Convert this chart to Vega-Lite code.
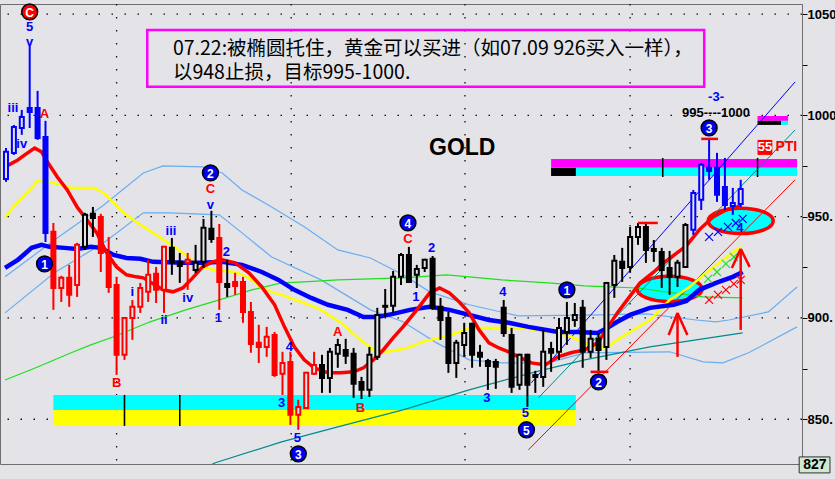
{
  "$schema": "https://vega.github.io/schema/vega-lite/v6.json",
  "width": 802,
  "height": 460,
  "autosize": {"type": "none"},
  "padding": {"left": 0, "top": 4, "right": 33, "bottom": 15},
  "background": "#E3E3E8",
  "config": {
    "view": {"stroke": "#6E6E6E", "strokeWidth": 1, "fill": "#E3E3E8"}
  },
  "resolve": {"scale": {"color": "independent", "fill": "independent", "stroke": "independent"}},
  "datasets": {
    "bars": [
      {"i":0,"o":968.6,"h":983.9,"l":967.2,"c":982.0,"ph":"impulse"},
      {"i":1,"o":981.5,"h":995.3,"l":980.5,"c":994.3,"ph":"impulse"},
      {"i":2,"o":993.8,"h":1002.7,"l":990.4,"c":999.2,"ph":"impulse"},
      {"i":3,"o":1003.7,"h":1034.3,"l":993.8,"c":1001.7,"ph":"impulse"},
      {"i":4,"o":1003.7,"h":1012.1,"l":987.9,"c":988.9,"ph":"impulse"},
      {"i":5,"o":989.4,"h":997.3,"l":937.5,"c":942.0,"ph":"impulse"},
      {"i":6,"o":942.5,"h":946.9,"l":904.0,"c":914.8,"ph":"decline"},
      {"i":7,"o":914.8,"h":920.8,"l":907.9,"c":919.8,"ph":"decline"},
      {"i":8,"o":919.8,"h":926.2,"l":905.5,"c":911.4,"ph":"decline"},
      {"i":9,"o":916.3,"h":937.1,"l":910.4,"c":936.1,"ph":"decline"},
      {"i":10,"o":935.1,"h":951.9,"l":933.6,"c":950.9,"ph":"range"},
      {"i":11,"o":951.4,"h":954.8,"l":940.0,"c":949.4,"ph":"range"},
      {"i":12,"o":949.9,"h":951.4,"l":922.7,"c":932.1,"ph":"decline"},
      {"i":13,"o":931.1,"h":940.0,"l":912.4,"c":915.3,"ph":"decline"},
      {"i":14,"o":916.3,"h":920.3,"l":871.9,"c":881.8,"ph":"decline"},
      {"i":15,"o":881.8,"h":900.5,"l":879.3,"c":900.0,"ph":"decline"},
      {"i":16,"o":900.0,"h":908.9,"l":889.2,"c":905.5,"ph":"decline"},
      {"i":17,"o":905.5,"h":917.3,"l":902.5,"c":914.8,"ph":"decline"},
      {"i":18,"o":912.9,"h":928.7,"l":907.9,"c":921.3,"ph":"decline"},
      {"i":19,"o":921.8,"h":925.2,"l":907.4,"c":913.9,"ph":"decline"},
      {"i":20,"o":913.9,"h":935.6,"l":902.5,"c":935.1,"ph":"decline"},
      {"i":21,"o":934.6,"h":939.5,"l":921.3,"c":927.2,"ph":"range"},
      {"i":22,"o":927.7,"h":932.1,"l":917.3,"c":925.7,"ph":"range"},
      {"i":23,"o":927.2,"h":932.1,"l":913.9,"c":928.7,"ph":"decline"},
      {"i":24,"o":923.7,"h":936.1,"l":922.3,"c":927.2,"ph":"range"},
      {"i":25,"o":927.7,"h":948.9,"l":924.7,"c":944.5,"ph":"range"},
      {"i":26,"o":944.0,"h":952.9,"l":937.1,"c":939.0,"ph":"range"},
      {"i":27,"o":939.5,"h":946.4,"l":904.0,"c":917.8,"ph":"decline"},
      {"i":28,"o":916.8,"h":928.7,"l":910.4,"c":915.3,"ph":"range"},
      {"i":29,"o":917.8,"h":922.3,"l":911.4,"c":915.8,"ph":"decline"},
      {"i":30,"o":917.8,"h":920.3,"l":897.6,"c":903.0,"ph":"decline"},
      {"i":31,"o":903.0,"h":907.9,"l":882.8,"c":887.2,"ph":"decline"},
      {"i":32,"o":887.7,"h":896.6,"l":877.8,"c":885.7,"ph":"decline"},
      {"i":33,"o":885.7,"h":895.6,"l":880.8,"c":890.7,"ph":"decline"},
      {"i":34,"o":891.6,"h":893.1,"l":870.9,"c":871.9,"ph":"decline"},
      {"i":35,"o":872.4,"h":883.3,"l":862.0,"c":877.8,"ph":"decline"},
      {"i":36,"o":878.3,"h":883.3,"l":847.2,"c":852.2,"ph":"decline"},
      {"i":37,"o":852.2,"h":859.6,"l":844.8,"c":856.1,"ph":"decline"},
      {"i":38,"o":855.6,"h":873.4,"l":855.1,"c":872.9,"ph":"decline"},
      {"i":39,"o":872.4,"h":883.3,"l":871.9,"c":876.8,"ph":"decline"},
      {"i":40,"o":876.8,"h":881.8,"l":863.0,"c":870.4,"ph":"range"},
      {"i":41,"o":870.4,"h":885.2,"l":863.0,"c":883.3,"ph":"range"},
      {"i":42,"o":882.3,"h":889.7,"l":875.4,"c":886.7,"ph":"range"},
      {"i":43,"o":884.2,"h":889.7,"l":877.3,"c":881.3,"ph":"range"},
      {"i":44,"o":882.3,"h":885.2,"l":860.5,"c":867.5,"ph":"range"},
      {"i":45,"o":868.4,"h":870.9,"l":860.0,"c":864.5,"ph":"range"},
      {"i":46,"o":864.5,"h":885.7,"l":861.0,"c":881.8,"ph":"range"},
      {"i":47,"o":880.8,"h":905.0,"l":879.3,"c":901.5,"ph":"range"},
      {"i":48,"o":906.0,"h":914.3,"l":900.5,"c":905.5,"ph":"range"},
      {"i":49,"o":906.0,"h":923.2,"l":902.5,"c":920.3,"ph":"range"},
      {"i":50,"o":920.3,"h":932.1,"l":916.3,"c":931.1,"ph":"range"},
      {"i":51,"o":931.1,"h":935.1,"l":917.3,"c":917.8,"ph":"range"},
      {"i":52,"o":921.3,"h":926.2,"l":914.8,"c":924.2,"ph":"range"},
      {"i":53,"o":924.7,"h":929.2,"l":922.7,"c":928.7,"ph":"range"},
      {"i":54,"o":929.2,"h":930.6,"l":904.0,"c":905.0,"ph":"range"},
      {"i":55,"o":905.5,"h":909.9,"l":889.2,"c":899.0,"ph":"range"},
      {"i":56,"o":900.0,"h":903.0,"l":872.9,"c":877.8,"ph":"range"},
      {"i":57,"o":877.8,"h":889.2,"l":870.4,"c":887.7,"ph":"range"},
      {"i":58,"o":886.7,"h":897.6,"l":880.8,"c":892.6,"ph":"range"},
      {"i":59,"o":897.1,"h":897.6,"l":875.4,"c":881.8,"ph":"range"},
      {"i":60,"o":882.8,"h":886.7,"l":875.9,"c":880.8,"ph":"range"},
      {"i":61,"o":878.8,"h":879.8,"l":864.5,"c":876.3,"ph":"range"},
      {"i":62,"o":878.3,"h":879.8,"l":865.0,"c":875.9,"ph":"range"},
      {"i":63,"o":905.0,"h":908.9,"l":890.7,"c":892.6,"ph":"range"},
      {"i":64,"o":891.6,"h":895.1,"l":863.0,"c":866.0,"ph":"range"},
      {"i":65,"o":867.0,"h":882.3,"l":864.5,"c":881.8,"ph":"range"},
      {"i":66,"o":881.8,"h":882.3,"l":856.1,"c":867.0,"ph":"range"},
      {"i":67,"o":871.9,"h":873.9,"l":863.0,"c":870.9,"ph":"range"},
      {"i":68,"o":870.9,"h":894.1,"l":866.0,"c":883.3,"ph":"range"},
      {"i":69,"o":884.7,"h":888.2,"l":873.4,"c":882.8,"ph":"range"},
      {"i":70,"o":883.3,"h":900.0,"l":879.3,"c":895.1,"ph":"range"},
      {"i":71,"o":893.1,"h":907.9,"l":886.7,"c":900.0,"ph":"range"},
      {"i":72,"o":899.0,"h":907.4,"l":895.6,"c":901.5,"ph":"range"},
      {"i":73,"o":905.0,"h":908.9,"l":875.4,"c":883.3,"ph":"range"},
      {"i":74,"o":883.3,"h":894.1,"l":880.3,"c":889.7,"ph":"range"},
      {"i":75,"o":889.7,"h":892.6,"l":873.4,"c":884.2,"ph":"range"},
      {"i":76,"o":885.7,"h":917.8,"l":879.3,"c":917.3,"ph":"range"},
      {"i":77,"o":916.3,"h":931.1,"l":909.9,"c":928.2,"ph":"range"},
      {"i":78,"o":927.7,"h":934.6,"l":917.8,"c":924.7,"ph":"range"},
      {"i":79,"o":925.2,"h":944.9,"l":922.3,"c":940.0,"ph":"range"},
      {"i":80,"o":940.0,"h":946.9,"l":936.1,"c":944.9,"ph":"range"},
      {"i":81,"o":944.9,"h":947.4,"l":927.2,"c":933.6,"ph":"range"},
      {"i":82,"o":934.1,"h":938.5,"l":927.7,"c":933.1,"ph":"range"},
      {"i":83,"o":932.6,"h":934.6,"l":914.8,"c":923.7,"ph":"range"},
      {"i":84,"o":924.7,"h":933.1,"l":911.4,"c":920.3,"ph":"range"},
      {"i":85,"o":920.3,"h":928.7,"l":915.3,"c":927.2,"ph":"range"},
      {"i":86,"o":925.2,"h":946.9,"l":924.7,"c":945.9,"ph":"range"},
      {"i":87,"o":943.5,"h":963.2,"l":941.0,"c":961.7,"ph":"impulse"},
      {"i":88,"o":958.3,"h":976.5,"l":953.3,"c":975.6,"ph":"impulse"},
      {"i":89,"o":974.1,"h":988.4,"l":968.2,"c":972.6,"ph":"impulse"},
      {"i":90,"o":974.1,"h":981.5,"l":957.3,"c":960.8,"ph":"impulse"},
      {"i":91,"o":964.7,"h":979.0,"l":953.3,"c":955.8,"ph":"impulse"},
      {"i":92,"o":955.3,"h":964.2,"l":950.9,"c":956.8,"ph":"impulse"},
      {"i":93,"o":956.3,"h":968.2,"l":954.8,"c":963.7,"ph":"impulse"}
    ],
    "ma": [
      {"s":"fast","i":-0.12,"p":974.6},{"s":"fast","i":1.5,"p":978.0},{"s":"fast","i":2.38,"p":980.5},{"s":"fast","i":3.63,"p":983.9},{"s":"fast","i":4.5,"p":982.0},{"s":"fast","i":5.25,"p":977.0},{"s":"fast","i":6.5,"p":969.6},{"s":"fast","i":7.75,"p":963.2},{"s":"fast","i":9,"p":954.8},{"s":"fast","i":10.25,"p":948.4},{"s":"fast","i":11.5,"p":942.0},{"s":"fast","i":12.75,"p":932.1},{"s":"fast","i":14,"p":925.2},{"s":"fast","i":15.25,"p":921.3},{"s":"fast","i":16.5,"p":920.3},{"s":"fast","i":17.38,"p":919.8},{"s":"fast","i":19.88,"p":913.9},{"s":"fast","i":21.13,"p":912.9},{"s":"fast","i":22.38,"p":914.8},{"s":"fast","i":23.63,"p":919.8},{"s":"fast","i":24.88,"p":925.2},{"s":"fast","i":26.13,"p":927.7},{"s":"fast","i":27.38,"p":928.7},{"s":"fast","i":29,"p":927.2},{"s":"fast","i":30.75,"p":922.3},{"s":"fast","i":32.38,"p":915.3},{"s":"fast","i":34,"p":906.5},{"s":"fast","i":35.25,"p":895.6},{"s":"fast","i":36.5,"p":885.7},{"s":"fast","i":37.75,"p":879.3},{"s":"fast","i":39,"p":875.4},{"s":"fast","i":40.75,"p":872.9},{"s":"fast","i":42.38,"p":872.9},{"s":"fast","i":44,"p":873.4},{"s":"fast","i":45.25,"p":875.4},{"s":"fast","i":46.5,"p":879.3},{"s":"fast","i":47.75,"p":884.2},{"s":"fast","i":49,"p":890.2},{"s":"fast","i":50.25,"p":895.6},{"s":"fast","i":52,"p":904.0},{"s":"fast","i":53.63,"p":912.4},{"s":"fast","i":54.88,"p":914.8},{"s":"fast","i":56.13,"p":912.4},{"s":"fast","i":57.38,"p":907.9},{"s":"fast","i":58.63,"p":902.5},{"s":"fast","i":59.88,"p":894.1},{"s":"fast","i":61.13,"p":887.7},{"s":"fast","i":62.38,"p":885.2},{"s":"fast","i":63.63,"p":883.3},{"s":"fast","i":64.88,"p":880.8},{"s":"fast","i":66.5,"p":877.8},{"s":"fast","i":68.25,"p":876.8},{"s":"fast","i":69.88,"p":880.8},{"s":"fast","i":71.5,"p":882.8},{"s":"fast","i":73.25,"p":884.2},{"s":"fast","i":74.88,"p":887.7},{"s":"fast","i":76.13,"p":895.1},{"s":"fast","i":77.38,"p":902.5},{"s":"fast","i":78.63,"p":908.9},{"s":"fast","i":80.25,"p":917.3},{"s":"fast","i":82,"p":922.7},{"s":"fast","i":83.25,"p":927.2},{"s":"fast","i":86.13,"p":935.6},{"s":"fast","i":87.75,"p":943.5},{"s":"fast","i":89.5,"p":949.9},{"s":"fast","i":91.13,"p":953.3},{"s":"fast","i":93,"p":955.3},
      {"s":"slow","i":-0.12,"p":924.7},{"s":"slow","i":1.5,"p":928.7},{"s":"slow","i":3.25,"p":934.6},{"s":"slow","i":4.5,"p":936.1},{"s":"slow","i":5.5,"p":935.1},{"s":"slow","i":7.38,"p":934.6},{"s":"slow","i":9,"p":934.1},{"s":"slow","i":10.75,"p":935.1},{"s":"slow","i":12,"p":934.6},{"s":"slow","i":13.63,"p":931.1},{"s":"slow","i":15.25,"p":929.6},{"s":"slow","i":17,"p":929.2},{"s":"slow","i":18.63,"p":927.7},{"s":"slow","i":22.38,"p":927.2},{"s":"slow","i":24.88,"p":927.2},{"s":"slow","i":27.38,"p":927.7},{"s":"slow","i":29.88,"p":926.2},{"s":"slow","i":32.38,"p":922.7},{"s":"slow","i":34.5,"p":918.8},{"s":"slow","i":36.5,"p":913.9},{"s":"slow","i":38.63,"p":909.9},{"s":"slow","i":40.75,"p":906.5},{"s":"slow","i":43.25,"p":904.0},{"s":"slow","i":45.25,"p":900.5},{"s":"slow","i":47,"p":900.5},{"s":"slow","i":49,"p":902.0},{"s":"slow","i":51.13,"p":904.0},{"s":"slow","i":53.63,"p":905.5},{"s":"slow","i":56.13,"p":904.0},{"s":"slow","i":58.63,"p":901.5},{"s":"slow","i":61.13,"p":899.0},{"s":"slow","i":63.63,"p":897.6},{"s":"slow","i":66.13,"p":895.6},{"s":"slow","i":69.88,"p":893.1},{"s":"slow","i":72.38,"p":893.1},{"s":"slow","i":74.88,"p":892.6},{"s":"slow","i":76.13,"p":895.1},{"s":"slow","i":77.38,"p":898.1},{"s":"slow","i":79,"p":901.5},{"s":"slow","i":81.5,"p":905.0},{"s":"slow","i":84.5,"p":906.5},{"s":"slow","i":86.13,"p":908.4},{"s":"slow","i":87.75,"p":913.9},{"s":"slow","i":89.88,"p":917.3},{"s":"slow","i":92,"p":920.3},{"s":"slow","i":93.25,"p":922.7},
      {"s":"mid","i":-0.12,"p":949.9},{"s":"mid","i":1.5,"p":957.3},{"s":"mid","i":3.25,"p":964.2},{"s":"mid","i":4,"p":967.7},{"s":"mid","i":5.25,"p":967.2},{"s":"mid","i":7,"p":965.7},{"s":"mid","i":8.25,"p":964.2},{"s":"mid","i":11.13,"p":964.2},{"s":"mid","i":12.38,"p":961.7},{"s":"mid","i":13.63,"p":956.8},{"s":"mid","i":14.88,"p":951.9},{"s":"mid","i":16.5,"p":947.4},{"s":"mid","i":18.63,"p":942.0},{"s":"mid","i":21.5,"p":934.6},{"s":"mid","i":23.25,"p":929.6},{"s":"mid","i":24.88,"p":924.7},{"s":"mid","i":26.5,"p":923.7},{"s":"mid","i":29,"p":922.7},{"s":"mid","i":30.75,"p":919.8},{"s":"mid","i":32.38,"p":914.8},{"s":"mid","i":34,"p":912.4},{"s":"mid","i":34.88,"p":911.4},{"s":"mid","i":37.38,"p":907.9},{"s":"mid","i":39.88,"p":904.0},{"s":"mid","i":42.38,"p":897.6},{"s":"mid","i":44.88,"p":889.2},{"s":"mid","i":46.5,"p":884.2},{"s":"mid","i":48.25,"p":883.3},{"s":"mid","i":49.5,"p":884.2},{"s":"mid","i":50.75,"p":885.2},{"s":"mid","i":52.75,"p":888.2},{"s":"mid","i":54.88,"p":890.2},{"s":"mid","i":57,"p":892.6},{"s":"mid","i":58.63,"p":895.1},{"s":"mid","i":61.13,"p":895.1},{"s":"mid","i":63.63,"p":895.1},{"s":"mid","i":66.13,"p":894.6},{"s":"mid","i":69,"p":893.1},{"s":"mid","i":71.5,"p":890.7},{"s":"mid","i":73.25,"p":887.7},{"s":"mid","i":74.88,"p":885.2},{"s":"mid","i":76.13,"p":885.7},{"s":"mid","i":77.38,"p":889.2},{"s":"mid","i":79,"p":893.1},{"s":"mid","i":81.5,"p":899.0},{"s":"mid","i":84,"p":908.9},{"s":"mid","i":86.5,"p":915.3},{"s":"mid","i":88.63,"p":922.3},{"s":"mid","i":90.75,"p":928.7},{"s":"mid","i":93,"p":935.1},
      {"s":"envA","i":-0.12,"p":920.3},{"s":"envA","i":6.13,"p":938.5},{"s":"envA","i":12.38,"p":955.8},{"s":"envA","i":17.38,"p":971.6},{"s":"envA","i":19.88,"p":975.1},{"s":"envA","i":24.88,"p":974.6},{"s":"envA","i":27.38,"p":971.6},{"s":"envA","i":29.88,"p":963.2},{"s":"envA","i":33.63,"p":954.8},{"s":"envA","i":37.75,"p":945.0},{"s":"envA","i":42,"p":933.6},{"s":"envA","i":46.13,"p":929.6},{"s":"envA","i":50.25,"p":921.3},{"s":"envA","i":53.63,"p":912.9},{"s":"envA","i":58.63,"p":906.5},{"s":"envA","i":64.88,"p":901.0},{"s":"envA","i":75.25,"p":901.5},{"s":"envA","i":81.13,"p":902.0},{"s":"envA","i":87.38,"p":899.0},{"s":"envA","i":89.88,"p":898.1},{"s":"envA","i":91.5,"p":899.0},{"s":"envA","i":96.5,"p":903.0},{"s":"envA","i":100.13,"p":915.3},
      {"s":"envB","i":-0.12,"p":902.5},{"s":"envB","i":6.13,"p":922.3},{"s":"envB","i":12.38,"p":937.1},{"s":"envB","i":17.38,"p":951.9},{"s":"envB","i":20.75,"p":951.9},{"s":"envB","i":27,"p":950.9},{"s":"envB","i":29.88,"p":942.0},{"s":"envB","i":33.63,"p":930.1},{"s":"envB","i":39.88,"p":918.8},{"s":"envB","i":46.13,"p":904.0},{"s":"envB","i":50.25,"p":898.1},{"s":"envB","i":54.5,"p":887.7},{"s":"envB","i":58.63,"p":879.3},{"s":"envB","i":62.75,"p":877.8},{"s":"envB","i":68.63,"p":877.8},{"s":"envB","i":73.25,"p":882.8},{"s":"envB","i":84,"p":883.3},{"s":"envB","i":88.25,"p":878.3},{"s":"envB","i":90.75,"p":877.8},{"s":"envB","i":94,"p":882.8},{"s":"envB","i":100.13,"p":895.6},
      {"s":"trendG","i":-0.12,"p":869.4},{"s":"trendG","i":4,"p":875.8},{"s":"trendG","i":8.25,"p":882.8},{"s":"trendG","i":10.75,"p":886.7},{"s":"trendG","i":13.63,"p":890.7},{"s":"trendG","i":18.25,"p":898.1},{"s":"trendG","i":22.75,"p":904.0},{"s":"trendG","i":27,"p":908.9},{"s":"trendG","i":31.13,"p":913.9},{"s":"trendG","i":34.88,"p":917.3},{"s":"trendG","i":37.75,"p":917.8},{"s":"trendG","i":42,"p":918.8},{"s":"trendG","i":50.25,"p":919.8},{"s":"trendG","i":55.75,"p":921.3},{"s":"trendG","i":58.63,"p":920.3},{"s":"trendG","i":62.75,"p":918.8},{"s":"trendG","i":68.63,"p":917.3},{"s":"trendG","i":73.25,"p":915.8},{"s":"trendG","i":79.88,"p":914.8},{"s":"trendG","i":88.25,"p":910.4},{"s":"trendG","i":93.25,"p":909.9},
      {"s":"trendT","i":22.38,"p":821.1},{"s":"trendT","i":26.5,"p":828.5},{"s":"trendT","i":34.88,"p":838.8},{"s":"trendT","i":42,"p":846.2},{"s":"trendT","i":50.25,"p":854.6},{"s":"trendT","i":58.63,"p":864.5},{"s":"trendT","i":67,"p":873.4},{"s":"trendT","i":73.25,"p":879.3},{"s":"trendT","i":81.5,"p":885.7},{"s":"trendT","i":89.88,"p":890.7},{"s":"trendT","i":93.25,"p":892.6}
    ],
    "channels": [
      {"s":"upper","i":66.5,"p":868.0,"i2":99.88,"p2":1016.5},
      {"s":"middle","i":67.38,"p":860.5,"i2":99.88,"p2":992.8},
      {"s":"lower","i":66.13,"p":834.9,"i2":99.88,"p2":968.2}
    ],
    "zones": [
      {"k":"cyan","i":6,"i2":72.13,"p":862.0,"p2":854.6},
      {"k":"yellow","i":6,"i2":72.13,"p":854.6,"p2":846.7},
      {"k":"magenta","i":69,"i2":100.13,"p":978.5,"p2":974.1},
      {"k":"cyan","i":69,"i2":100.13,"p":974.1,"p2":970.1},
      {"k":"black","i":69,"i2":72.13,"p":974.1,"p2":970.1},
      {"k":"magenta","i":95.13,"i2":99,"p":999.7,"p2":997.3},
      {"k":"black","i":95.13,"i2":98.13,"p":997.3,"p2":995.3},
      {"k":"cyan","i":98.13,"i2":99,"p":997.3,"p2":995.3},
      {"k":"black","i":14.9,"i2":15.1,"p":862.0,"p2":846.7},
      {"k":"black","i":21.9,"i2":22.1,"p":862.0,"p2":846.7},
      {"k":"black","i":83.03,"i2":83.23,"p":979.0,"p2":969.6},
      {"k":"black","i":95.03,"i2":95.23,"p":979.0,"p2":969.6}
    ],
    "ovals": [
      {"i":84,"p":914.3},
      {"i":93,"p":947.9}
    ],
    "crosses": [
      {"k":"g","i":88.88,"p":919.3},{"k":"g","i":90,"p":922.7},{"k":"g","i":91.13,"p":926.7},{"k":"g","i":92.13,"p":930.1},
      {"k":"r","i":89,"p":908.9},{"k":"r","i":90.13,"p":911.4},{"k":"r","i":91.13,"p":913.9},{"k":"r","i":92.13,"p":916.8},{"k":"r","i":93,"p":918.8},
      {"k":"b","i":89,"p":940.0},{"k":"b","i":90.13,"p":942.5},{"k":"b","i":91.38,"p":945.0},{"k":"b","i":92.38,"p":946.9},{"k":"b","i":93.25,"p":948.9}
    ],
    "strokes": [
      {"i":88,"p":988.4,"i2":90.13,"p2":988.4},
      {"i":80,"p":946.9,"i2":82.5,"p2":946.9},
      {"i":74,"p":873.4,"i2":76.25,"p2":873.4},
      {"i":85,"p":880.8,"i2":85,"p2":902.5},
      {"i":83.88,"p":891.6,"i2":85,"p2":902.5},
      {"i":86.25,"p":891.6,"i2":85,"p2":902.5},
      {"i":93,"p":894.1,"i2":93,"p2":933.6},
      {"i":91.88,"p":924.7,"i2":93,"p2":934.1},
      {"i":94.13,"p":925.2,"i2":93,"p2":934.1}
    ],
    "counts": [
      {"i":3,"p":1051.1,"t":"C","k":"abc"},
      {"i":4.88,"p":926.7,"t":"1","k":"wave"},
      {"i":25.88,"p":971.6,"t":"2","k":"wave"},
      {"i":37,"p":832.9,"t":"3","k":"wave"},
      {"i":50.88,"p":946.9,"t":"4","k":"wave"},
      {"i":65.88,"p":844.8,"t":"5","k":"wave"},
      {"i":71,"p":913.9,"t":"1","k":"wave"},
      {"i":75,"p":868.4,"t":"2","k":"wave"},
      {"i":89,"p":993.8,"t":"3","k":"wave"}
    ],
    "tags": [
      {"i":3,"p":1043.6,"t":"5","k":"wave"},
      {"i":3,"p":1036.0,"t":"v","k":"wave"},
      {"i":0.88,"p":1003.7,"t":"iii","k":"wave"},
      {"i":2,"p":985.9,"t":"iv","k":"wave"},
      {"i":4.88,"p":1000.7,"t":"A","k":"abc"},
      {"i":14,"p":867.9,"t":"B","k":"abc"},
      {"i":16,"p":912.9,"t":"i","k":"wave"},
      {"i":20,"p":899.0,"t":"ii","k":"wave"},
      {"i":20.88,"p":943.0,"t":"iii","k":"wave"},
      {"i":23,"p":909.9,"t":"iv","k":"wave"},
      {"i":25.88,"p":963.6,"t":"C","k":"abc"},
      {"i":25.88,"p":956.0,"t":"v","k":"wave"},
      {"i":27.88,"p":932.6,"t":"2","k":"wave"},
      {"i":26.88,"p":900.0,"t":"1","k":"wave"},
      {"i":35.88,"p":885.7,"t":"4","k":"wave"},
      {"i":34.88,"p":858.1,"t":"3","k":"wave"},
      {"i":36.88,"p":840.8,"t":"5","k":"wave"},
      {"i":42,"p":893.1,"t":"A","k":"abc"},
      {"i":44.88,"p":855.6,"t":"B","k":"abc"},
      {"i":50.88,"p":939.0,"t":"C","k":"abc"},
      {"i":51.88,"p":910.4,"t":"1","k":"wave"},
      {"i":53.88,"p":934.6,"t":"2","k":"wave"},
      {"i":62.88,"p":912.9,"t":"4","k":"wave"},
      {"i":60.88,"p":860.5,"t":"3","k":"wave"},
      {"i":65.75,"p":853.1,"t":"5","k":"wave"},
      {"i":89.88,"p":1009.3,"t":"-3-","k":"wave"},
      {"i":92.9,"p":944.5,"t":"4","k":"wave"},
      {"i":89.88,"p":1001.4,"t":"995----1000","k":"note"}
    ]
  },
  "encoding": {
    "x": {"field": "i", "type": "quantitative", "scale": {"domain": [-0.125, 100.125]}, "axis": null}
  },
  "layer": [
    {
      "data": {"values": [{"i":14},{"i":36.1},{"i":58.1},{"i":79}]},
      "mark": {"type": "rule", "color": "#111111", "strokeWidth": 1.3, "strokeDash": [1.5, 11.5]},
      "encoding": {"x": {"field": "i", "type": "quantitative"}}
    },
    {
      "data": {"values": [{"p":850},{"p":900},{"p":950},{"p":1000},{"p":1050}]},
      "mark": {"type": "rule", "color": "#111111", "strokeWidth": 1.3, "strokeDash": [1.5, 11.5]},
      "encoding": {
        "x": null,
        "y": {
          "field": "p", "type": "quantitative",
          "scale": {"domain": [827.9, 1055], "nice": false, "zero": false},
          "axis": {
            "orient": "right", "title": null, "grid": false,
            "values": [850, 875, 900, 925, 950, 975, 1000, 1025, 1050],
            "labelExpr": "datum.value % 50 === 0 ? datum.value + '.' : ''",
            "tickSize": 5, "tickColor": "#000000", "tickWidth": 1,
            "domain": true, "domainColor": "#6E6E6E",
            "labelFont": "Liberation Sans", "labelFontSize": 13, "labelFontWeight": "bold",
            "labelColor": "#000000", "labelPadding": 0, "labelOverlap": false, "labelFlush": false
          }
        }
      }
    },
    {
      "data": {"name": "zones"},
      "mark": {"type": "rect"},
      "encoding": {
        "x": {"field": "i", "type": "quantitative"},
        "x2": {"field": "i2"},
        "y": {"field": "p", "type": "quantitative", "title": null},
        "y2": {"field": "p2"},
        "fill": {"field": "k", "type": "nominal", "legend": null,
                 "scale": {"domain": ["cyan", "yellow", "magenta", "black"], "range": ["#00FFFF", "#FFFF00", "#FF00FF", "#000000"]}}
      }
    },
    {
      "data": {"name": "ovals"},
      "mark": {"type": "point", "shape": "M-1,0A1,0.39,0,1,0,1,0A1,0.39,0,1,0,-1,0Z", "size": 4225, "filled": true, "fill": "#00FFFF", "fillOpacity": 1, "stroke": "#FF0000", "strokeWidth": 3.5, "opacity": 1},
      "encoding": {"y": {"field": "p", "type": "quantitative", "title": null}}
    },
    {
      "data": {"name": "ma"},
      "transform": [{"filter": "datum.s === 'envA' || datum.s === 'envB'"}],
      "mark": {"type": "line", "color": "#6AAEF0", "strokeWidth": 1.2, "clip": true},
      "encoding": {"y": {"field": "p", "type": "quantitative", "title": null}, "detail": {"field": "s"}}
    },
    {
      "data": {"name": "ma"},
      "transform": [{"filter": "datum.s === 'trendG'"}],
      "mark": {"type": "line", "color": "#1EE01E", "strokeWidth": 1.2, "clip": true},
      "encoding": {"y": {"field": "p", "type": "quantitative", "title": null}}
    },
    {
      "data": {"name": "ma"},
      "transform": [{"filter": "datum.s === 'trendT'"}],
      "mark": {"type": "line", "color": "#008C8C", "strokeWidth": 1.2, "clip": true},
      "encoding": {"y": {"field": "p", "type": "quantitative", "title": null}}
    },
    {
      "data": {"name": "channels"},
      "mark": {"type": "rule", "strokeWidth": 1, "clip": true},
      "encoding": {
        "x": {"field": "i", "type": "quantitative"},
        "x2": {"field": "i2"},
        "y": {"field": "p", "type": "quantitative", "title": null},
        "y2": {"field": "p2"},
        "color": {"field": "s", "type": "nominal", "legend": null,
                  "scale": {"domain": ["upper", "middle", "lower"], "range": ["#0000FF", "#008C8C", "#FF0000"]}}
      }
    },
    {
      "data": {"name": "ma"},
      "transform": [{"filter": "datum.s === 'mid'"}],
      "mark": {"type": "line", "color": "#FFFF00", "strokeWidth": 2.5, "clip": true},
      "encoding": {"y": {"field": "p", "type": "quantitative", "title": null}}
    },
    {
      "data": {"name": "ma"},
      "transform": [{"filter": "datum.s === 'slow'"}],
      "mark": {"type": "line", "color": "#0000FF", "strokeWidth": 4.5, "clip": true},
      "encoding": {"y": {"field": "p", "type": "quantitative", "title": null}}
    },
    {
      "data": {"name": "ma"},
      "transform": [{"filter": "datum.s === 'fast'"}],
      "mark": {"type": "line", "color": "#FF0000", "strokeWidth": 3.5, "clip": true},
      "encoding": {"y": {"field": "p", "type": "quantitative", "title": null}}
    },
    {
      "data": {"name": "crosses"},
      "mark": {"type": "point", "shape": "M-1,-1L1,1M1,-1L-1,1", "size": 64, "filled": false, "strokeWidth": 1.2, "opacity": 1},
      "encoding": {
        "y": {"field": "p", "type": "quantitative", "title": null},
        "stroke": {"field": "k", "type": "nominal", "legend": null,
                   "scale": {"domain": ["g", "r", "b"], "range": ["#22DD22", "#FF0000", "#0000FF"]}}
      }
    },
    {
      "data": {"name": "bars"},
      "mark": {"type": "rule", "strokeWidth": 2, "clip": true},
      "encoding": {
        "y": {"field": "h", "type": "quantitative", "title": null},
        "y2": {"field": "l"},
        "color": {"field": "ph", "type": "nominal", "legend": null,
                  "scale": {"domain": ["impulse", "decline", "range"], "range": ["#0000FF", "#FF0000", "#000000"]}}
      }
    },
    {
      "data": {"name": "bars"},
      "mark": {"type": "bar", "size": 4, "strokeWidth": 2, "clip": true},
      "encoding": {
        "y": {"field": "o", "type": "quantitative", "title": null},
        "y2": {"field": "c"},
        "stroke": {"field": "ph", "type": "nominal", "legend": null,
                   "scale": {"domain": ["impulse", "decline", "range"], "range": ["#0000FF", "#FF0000", "#000000"]}},
        "fill": {
          "condition": {"test": "datum.c < datum.o", "field": "ph", "type": "nominal", "legend": null,
                        "scale": {"domain": ["impulse", "decline", "range"], "range": ["#0000FF", "#FF0000", "#000000"]}},
          "value": "#E3E3E8"
        }
      }
    },
    {
      "data": {"name": "strokes"},
      "mark": {"type": "rule", "color": "#FF0000", "strokeWidth": 2.5},
      "encoding": {
        "x": {"field": "i", "type": "quantitative"},
        "x2": {"field": "i2"},
        "y": {"field": "p", "type": "quantitative", "title": null},
        "y2": {"field": "p2"}
      }
    },
    {
      "data": {"name": "counts"},
      "mark": {"type": "point", "shape": "circle", "size": 250, "filled": true, "stroke": "#000000", "strokeWidth": 1.5, "opacity": 1},
      "encoding": {
        "y": {"field": "p", "type": "quantitative", "title": null},
        "fill": {"field": "k", "type": "nominal", "legend": null,
                 "scale": {"domain": ["wave", "abc"], "range": ["#0000F0", "#FF0000"]}}
      }
    },
    {
      "data": {"name": "counts"},
      "mark": {"type": "text", "color": "#FFFFFF", "font": "Liberation Sans", "fontSize": 12, "fontWeight": "bold", "align": "center", "baseline": "middle", "dy": 1},
      "encoding": {
        "y": {"field": "p", "type": "quantitative", "title": null},
        "text": {"field": "t"}
      }
    },
    {
      "data": {"name": "tags"},
      "mark": {"type": "text", "font": "Liberation Sans", "fontSize": 13, "fontWeight": "bold", "align": "center", "baseline": "middle"},
      "encoding": {
        "y": {"field": "p", "type": "quantitative", "title": null},
        "text": {"field": "t"},
        "color": {"field": "k", "type": "nominal", "legend": null,
                  "scale": {"domain": ["wave", "abc", "note"], "range": ["#0000FF", "#FF0000", "#000000"]}}
      }
    },
    {
      "data": {"values": [{"i": 57.75, "p": 984.0, "t": "GOLD"}]},
      "mark": {"type": "text", "font": "Liberation Sans", "fontSize": 23, "fontWeight": "bold", "color": "#000000", "align": "center", "baseline": "middle"},
      "encoding": {"y": {"field": "p", "type": "quantitative", "title": null}, "text": {"field": "t"}}
    },
    {
      "data": {"values": [{"i": 17.88, "i2": 88.38, "p": 1042.2, "p2": 1014.1}]},
      "mark": {"type": "rect", "fill": "transparent", "stroke": "#FF00FF", "strokeWidth": 2.5},
      "encoding": {
        "x": {"field": "i", "type": "quantitative"},
        "x2": {"field": "i2"},
        "y": {"field": "p", "type": "quantitative", "title": null},
        "y2": {"field": "p2"}
      }
    },
    {
      "data": {"values": [
        {"i": 21.13, "p": 1032.8, "t": "07.22:被椭圆托住，黄金可以买进（如07.09 926买入一样），"},
        {"i": 21.13, "p": 1021.0, "t": "以948止损，目标995-1000."}
      ]},
      "mark": {"type": "text", "font": "Noto Sans CJK SC", "fontSize": 19.5, "color": "#000000", "align": "left", "baseline": "middle"},
      "encoding": {"y": {"field": "p", "type": "quantitative", "title": null}, "text": {"field": "t"}}
    },
    {
      "data": {"values": [{"i": 95.13, "i2": 97.0, "p": 987.9, "p2": 980.5}]},
      "mark": {"type": "rect", "fill": "#FF0000"},
      "encoding": {
        "x": {"field": "i", "type": "quantitative"},
        "x2": {"field": "i2"},
        "y": {"field": "p", "type": "quantitative", "title": null},
        "y2": {"field": "p2"}
      }
    },
    {
      "data": {"values": [{"i": 96.06, "p": 984.2, "t": "55"}]},
      "mark": {"type": "text", "font": "Liberation Sans", "fontSize": 13, "fontWeight": "bold", "color": "#FFFFFF", "align": "center", "baseline": "middle"},
      "encoding": {"y": {"field": "p", "type": "quantitative", "title": null}, "text": {"field": "t"}}
    },
    {
      "data": {"values": [{"i": 97.4, "p": 984.2, "t": "PTI"}]},
      "mark": {"type": "text", "font": "Liberation Sans", "fontSize": 14, "fontWeight": "bold", "color": "#FF0000", "align": "left", "baseline": "middle"},
      "encoding": {"y": {"field": "p", "type": "quantitative", "title": null}, "text": {"field": "t"}}
    },
    {
      "data": {"values": [{"i": 100.4, "i2": 104.3, "p": 831.4, "p2": 823.5}]},
      "mark": {"type": "rect", "fill": "#CFE8CF", "stroke": "#303030", "strokeWidth": 1},
      "encoding": {
        "x": {"field": "i", "type": "quantitative"},
        "x2": {"field": "i2"},
        "y": {"field": "p", "type": "quantitative", "title": null},
        "y2": {"field": "p2"}
      }
    },
    {
      "data": {"values": [{"i": 102.4, "p": 827.3, "t": "827"}]},
      "mark": {"type": "text", "font": "Liberation Sans", "fontSize": 14, "fontWeight": "bold", "color": "#000000", "align": "center", "baseline": "middle"},
      "encoding": {"y": {"field": "p", "type": "quantitative", "title": null}, "text": {"field": "t"}}
    }
  ]
}
